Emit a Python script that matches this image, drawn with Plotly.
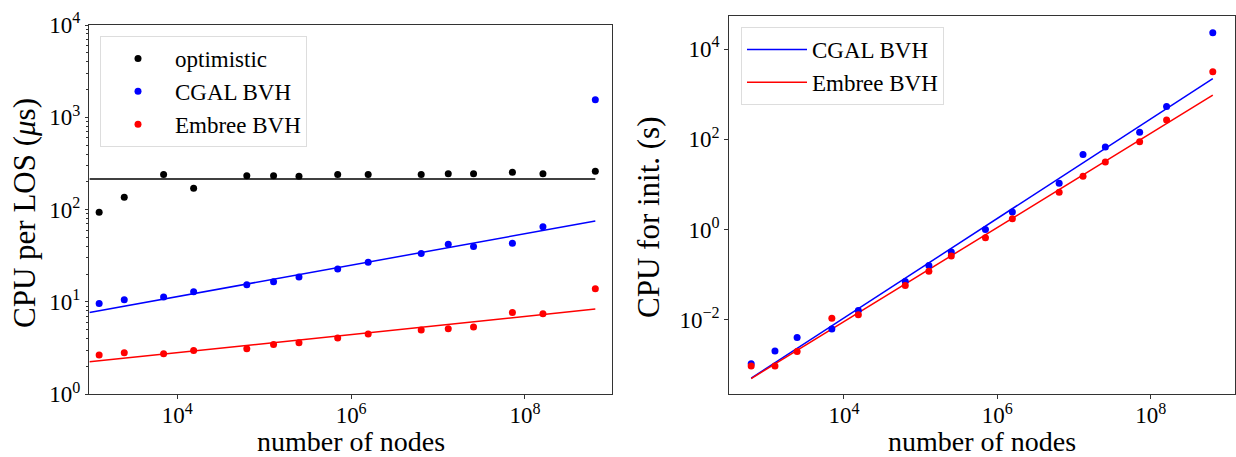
import plotly.graph_objects as go

# ---------------- data ----------------
nodes = [617, 1260, 2450, 6950, 15400, 63000, 128000, 251000, 700000,
         1.57e6, 6.4e6, 1.31e7, 2.56e7, 7.17e7, 1.61e8, 6.45e8]

# left panel: CPU per LOS (microseconds), nodes[1:]
los_nodes = nodes[1:]
los_optimistic = [93.5, 136, 241, 171, 233, 233, 230, 241, 241, 241, 245, 245, 254, 245, 260]
los_cgal = [9.65, 10.6, 11.3, 12.9, 15.4, 16.6, 18.6, 22.7, 27.0, 33.6, 42.1, 40.0, 43.2, 65.3, 1553]
los_embree = [2.66, 2.82, 2.75, 2.99, 3.11, 3.47, 3.61, 4.06, 4.49, 4.96, 5.13, 5.35, 7.71, 7.46, 13.9]

# left panel fitted lines (end points)
los_fit_x = [975, 6.45e8]
los_fit_optimistic = [215, 215]
los_fit_cgal = [7.7, 75.2]
los_fit_embree = [2.25, 8.37]

# right panel: CPU for init (s)
init_cgal = [0.00107, 0.00205, 0.00404, 0.0063, 0.0161, 0.071, 0.161, 0.318, 1.0,
             2.46, 10.7, 46.4, 67.4, 143, 531, 23000]
init_embree = [0.00095, 0.00095, 0.00198, 0.0109, 0.0129, 0.058, 0.120, 0.259, 0.66,
               1.75, 6.75, 15.3, 31.3, 88.5, 268, 3130]
init_fit_x = [617, 6.45e8]
init_fit_cgal = [5.1e-4, 2220]
init_fit_embree = [5.0e-4, 950]

# tick labels
x_tickvals = [1e4, 1e6, 1e8]
x_ticktext = ["10<sup>4</sup>", "10<sup>6</sup>", "10<sup>8</sup>"]
y1_tickvals = [1, 10, 100, 1000, 10000]
y1_ticktext = ["10<sup>0</sup>", "10<sup>1</sup>", "10<sup>2</sup>", "10<sup>3</sup>", "10<sup>4</sup>"]
y2_tickvals = [1e-2, 1, 1e2, 1e4]
y2_ticktext = ["10<sup>\u22122</sup>", "10<sup>0</sup>", "10<sup>2</sup>", "10<sup>4</sup>"]

# axis titles
x_title = "number of nodes"
y1_title = "CPU per LOS (<i>\u03bc</i>s)"
y2_title = "CPU for init. (s)"

BLUE = "#0000ff"
RED = "#ff0000"
BLACK = "#000000"
FONT = "'Liberation Serif', 'DejaVu Serif', serif"
MS = 7

fig = go.Figure()

# left panel points
fig.add_trace(go.Scatter(x=los_nodes, y=los_optimistic, mode="markers", name="optimistic",
                         marker=dict(color=BLACK, size=MS), xaxis="x", yaxis="y", legend="legend"))
fig.add_trace(go.Scatter(x=los_nodes, y=los_cgal, mode="markers", name="CGAL BVH",
                         marker=dict(color=BLUE, size=MS), xaxis="x", yaxis="y", legend="legend"))
fig.add_trace(go.Scatter(x=los_nodes, y=los_embree, mode="markers", name="Embree BVH",
                         marker=dict(color=RED, size=MS), xaxis="x", yaxis="y", legend="legend"))
# left panel lines
for yy, c in [(los_fit_optimistic, BLACK), (los_fit_cgal, BLUE), (los_fit_embree, RED)]:
    fig.add_trace(go.Scatter(x=los_fit_x, y=yy, mode="lines", line=dict(color=c, width=1.5),
                             showlegend=False, xaxis="x", yaxis="y", hoverinfo="skip"))

# right panel lines (legend)
fig.add_trace(go.Scatter(x=init_fit_x, y=init_fit_cgal, mode="lines", name="CGAL BVH",
                         line=dict(color=BLUE, width=1.5), xaxis="x2", yaxis="y2", legend="legend2"))
fig.add_trace(go.Scatter(x=init_fit_x, y=init_fit_embree, mode="lines", name="Embree BVH",
                         line=dict(color=RED, width=1.5), xaxis="x2", yaxis="y2", legend="legend2"))
# right panel points
fig.add_trace(go.Scatter(x=nodes, y=init_cgal, mode="markers", marker=dict(color=BLUE, size=MS),
                         showlegend=False, xaxis="x2", yaxis="y2"))
fig.add_trace(go.Scatter(x=nodes, y=init_embree, mode="markers", marker=dict(color=RED, size=MS),
                         showlegend=False, xaxis="x2", yaxis="y2"))

W, H = 1236, 457
axis_common = dict(type="log", showline=True, linecolor="#333333", linewidth=1, mirror=True,
                   showgrid=False, zeroline=False, ticks="outside", ticklen=3.5, tickcolor="#333333",
                   automargin=False, title=dict(text=""),
                   tickfont=dict(family=FONT, size=23, color="black"))
title_font = dict(family=FONT, size=28, color="black")
ytitle_font = dict(family=FONT, size=31, color="black")

fig.update_layout(
    width=W, height=H,
    margin=dict(l=0, r=0, t=0, b=0, autoexpand=False),
    paper_bgcolor="white", plot_bgcolor="white",
    font=dict(family=FONT, color="black"),
    xaxis=dict(axis_common, domain=[89.3 / W, 611.7 / W], range=[2.987, 8.998],
               tickvals=x_tickvals, ticktext=x_ticktext, anchor="y", ticklabelstandoff=-3),
    yaxis=dict(axis_common, domain=[1 - 394.3 / H, 1 - 25 / H], range=[0, 4],
               tickvals=y1_tickvals, ticktext=y1_ticktext, anchor="x",
               minor=dict(ticks="outside", ticklen=2, tickcolor="#333333", dtick="D1")),
    xaxis2=dict(axis_common, domain=[728.7 / W, 1235 / W], range=[2.497, 9.099],
                tickvals=x_tickvals, ticktext=x_ticktext, anchor="y2", ticklabelstandoff=-3),
    yaxis2=dict(axis_common, domain=[1 - 394.3 / H, 1 - 15.7 / H], range=[-3.65, 4.74],
                tickvals=y2_tickvals, ticktext=y2_ticktext, anchor="x2"),
    legend=dict(x=100 / W, y=1 - 36 / H, xanchor="left", yanchor="top",
                bgcolor="rgba(255,255,255,0.8)", bordercolor="#dddddd", borderwidth=1,
                font=dict(family=FONT, size=23, color="black"), itemwidth=64),
    legend2=dict(x=741 / W, y=1 - 27 / H, xanchor="left", yanchor="top",
                 bgcolor="rgba(255,255,255,0.8)", bordercolor="#dddddd", borderwidth=1,
                 font=dict(family=FONT, size=23, color="black"), itemwidth=60),
    showlegend=True,
    annotations=[
        dict(text=x_title, x=350.5 / W, y=1 - 441 / H, xref="paper", yref="paper",
             xanchor="center", yanchor="middle", showarrow=False, font=title_font, borderpad=0),
        dict(text=x_title, x=981.9 / W, y=1 - 441 / H, xref="paper", yref="paper",
             xanchor="center", yanchor="middle", showarrow=False, font=title_font, borderpad=0),
        dict(text=y1_title, x=24 / W, y=1 - 213 / H, xref="paper", yref="paper", textangle=-90,
             xanchor="center", yanchor="middle", showarrow=False, font=ytitle_font, borderpad=0),
        dict(text=y2_title, x=649 / W, y=1 - 217 / H, xref="paper", yref="paper", textangle=-90,
             xanchor="center", yanchor="middle", showarrow=False, font=ytitle_font, borderpad=0),
    ],
)

fig.write_html("out.html")
